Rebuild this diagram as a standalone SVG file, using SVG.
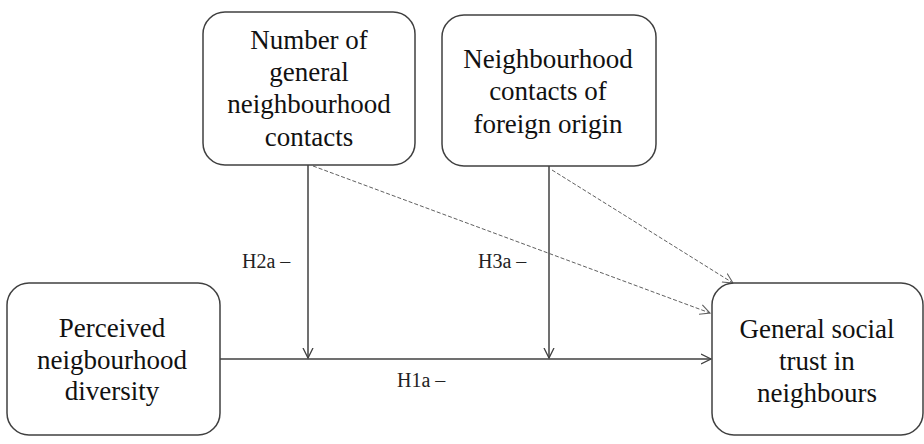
<svg xmlns="http://www.w3.org/2000/svg" width="924" height="444" viewBox="0 0 924 444">
<defs>
<style>
.box{fill:#fff;stroke:#404040;stroke-width:1.5}
.t{font-family:"Liberation Serif","Times New Roman",serif;font-size:27px;fill:#111;text-anchor:middle}
.l{font-family:"Liberation Serif","Times New Roman",serif;font-size:20px;fill:#222}
.solid{stroke:#404040;stroke-width:1.5;fill:none}
.dash{stroke:#606060;stroke-width:1;stroke-dasharray:4,2;fill:none}
</style>
<marker id="arr" markerWidth="12" markerHeight="12" refX="10" refY="5" orient="auto" markerUnits="userSpaceOnUse" viewBox="0 0 12 10">
<path d="M0,0 L10,5 L0,10" fill="none" stroke="#404040" stroke-width="1.3"/>
</marker>
<marker id="arrd" markerWidth="12" markerHeight="12" refX="10" refY="5" orient="auto" markerUnits="userSpaceOnUse" viewBox="0 0 12 10">
<path d="M0,0 L10,5 L0,10" fill="none" stroke="#606060" stroke-width="1.1"/>
</marker>
</defs>
<rect width="924" height="444" fill="#fff"/>
<g id="connectors">
<line class="solid" x1="220" y1="359" x2="711" y2="359" marker-end="url(#arr)"/>
<line class="solid" x1="308" y1="165" x2="308" y2="358" marker-end="url(#arr)"/>
<line class="solid" x1="549" y1="166" x2="549" y2="358" marker-end="url(#arr)"/>
<line class="dash" x1="313" y1="166" x2="710" y2="313" marker-end="url(#arrd)"/>
<line class="dash" x1="552" y1="170" x2="733" y2="283" marker-end="url(#arrd)"/>
<text class="l" x="242" y="268">H2a –</text>
<text class="l" x="478" y="268">H3a  –</text>
<text class="l" x="397" y="387">H1a –</text>
</g>
<g id="n1">
<rect class="box" x="203" y="12" width="212" height="153" rx="22"/>
<text class="t" x="309" y="49">Number of</text>
<text class="t" x="309" y="81">general</text>
<text class="t" x="309" y="113">neighbourhood</text>
<text class="t" x="309" y="146">contacts</text>
</g>
<g id="n2">
<rect class="box" x="442" y="15" width="214" height="151" rx="22"/>
<text class="t" x="548" y="68">Neighbourhood</text>
<text class="t" x="548" y="100">contacts of</text>
<text class="t" x="548" y="133">foreign origin</text>
</g>
<g id="n3">
<rect class="box" x="7" y="283" width="213" height="152" rx="22"/>
<text class="t" x="112" y="337">Perceived</text>
<text class="t" x="112" y="369">neigbourhood</text>
<text class="t" x="112" y="400">diversity</text>
</g>
<g id="n4">
<rect class="box" x="712" y="283" width="211" height="152" rx="22"/>
<text class="t" x="817" y="338">General social</text>
<text class="t" x="817" y="370">trust in</text>
<text class="t" x="817" y="402">neighbours</text>
</g>
</svg>
